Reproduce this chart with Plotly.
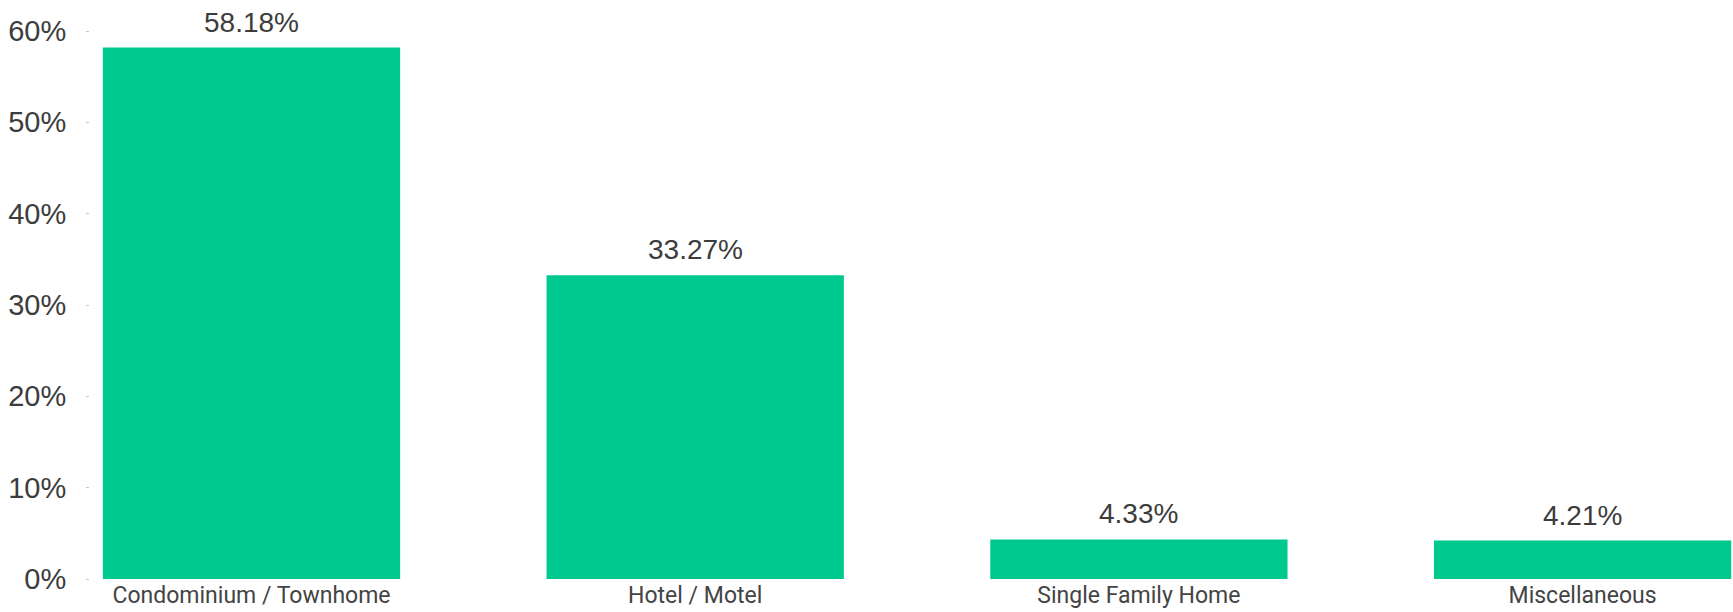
import plotly.graph_objects as go

categories = ["Condominium / Townhome", "Hotel / Motel", "Single Family Home", "Miscellaneous"]
values = [58.18, 33.27, 4.33, 4.21]
value_labels = ["58.18%", "33.27%", "4.33%", "4.21%"]
y_tickvals = [0, 10, 20, 30, 40, 50, 60]
y_ticktext = ["0%", "10%", "20%", "30%", "40%", "50%", "60%"]

BAR_COLOR = "#00C98F"
TEXT_COLOR = "#3c3c3c"

fig = go.Figure()
fig.add_trace(go.Bar(
    x=list(range(len(categories))),
    y=values,
    marker=dict(color=BAR_COLOR, line=dict(width=0)),
    width=0.67,
    hoverinfo="skip",
))

for i, (v, t) in enumerate(zip(values, value_labels)):
    fig.add_annotation(
        x=i, y=v, text=t, showarrow=False,
        yanchor="bottom", yshift=8,
        font=dict(family="Liberation Sans, Arial", size=28, color=TEXT_COLOR),
    )

fig.update_layout(
    width=1733, height=612,
    margin=dict(l=90, r=0, t=31, b=33, autoexpand=False),
    paper_bgcolor="white", plot_bgcolor="white",
    showlegend=False,
    bargap=0.33,
)
fig.update_xaxes(
    range=[-0.364, 3.339],
    tickvals=list(range(len(categories))),
    ticktext=categories,
    showgrid=False, zeroline=False, showline=False,
    ticks="",
    automargin=False,
    tickfont=dict(family="Roboto, Liberation Sans", size=23, color="#444444"),
)
fig.update_yaxes(
    range=[0, 60],
    tickvals=y_tickvals,
    ticktext=y_ticktext,
    showgrid=False, zeroline=False, showline=False,
    ticks="outside", ticklen=3, tickcolor="#c8c8c8", tickwidth=1,
    ticklabelstandoff=14,
    automargin=False,
    tickfont=dict(family="Liberation Sans, Arial", size=29, color=TEXT_COLOR),
)

# remove the default 8px page margin so the figure fills the window exactly
fig.write_html(
    "out.html",
    config={"displayModeBar": False},
    post_script="document.body.style.margin='0';",
)
